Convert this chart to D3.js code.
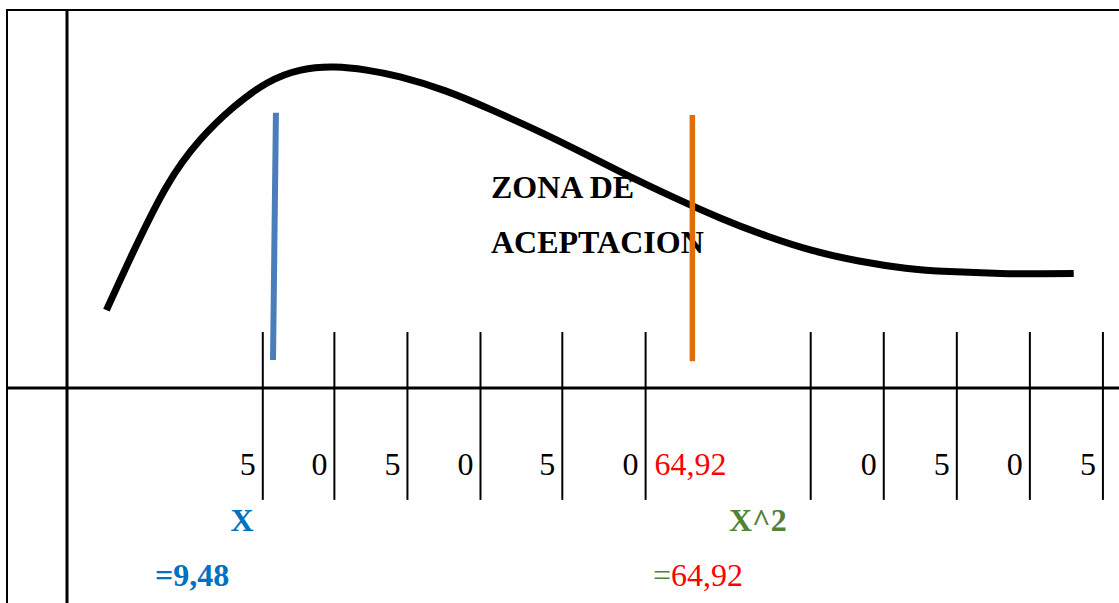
<!DOCTYPE html>
<html lang="es">
<head>
  <meta charset="UTF-8">
  <title>Zona de aceptacion</title>
  <style>
    body { margin: 0; background: #fff; }
    svg { display: block; }
    .frame { stroke: #000; fill: none; }
    .curve { fill: none; stroke: #000; stroke-width: 7px; stroke-linecap: butt; }
    .tick-line { stroke: #000; stroke-width: 2px; }
    .lbl { font-family: "Liberation Serif", "Times New Roman", "DejaVu Serif", serif; font-size: 32px; }
    .bold { font-weight: bold; }
  </style>
  <script src="https://d3js.org/d3.v7.min.js"></script>
</head>
<body>
  <svg id="chart"></svg>
  <script>
    // curve (x in chi units, y in density units 0..100)
    var curveX = [2.7, 4.5, 6.8, 9.1, 11.4, 13.7, 16.0, 18.3, 20.5, 22.8, 25.9, 29.1, 32.4, 35.3, 38.5, 41.6, 44.7, 47.9, 51.0, 54.2, 57.4, 60.4, 63.9, 66.7, 68.9];
    var curveY = [20.6, 35.7, 53.2, 65.6, 74.3, 80.7, 84.1, 84.9, 84.1, 82.3, 78.6, 73.5, 67.7, 62.2, 56.0, 50.3, 45.0, 40.2, 36.4, 33.6, 31.7, 30.8, 30.3, 30.2, 30.3];
    // cell boundaries on the axis and the text in the cell left of each one
    var cellEdges = [13.4, 18.3, 23.3, 28.3, 33.9, 39.6, 50.9, 55.9, 60.9, 65.9, 70.9];
    var cellLabels = ["5", "0", "5", "0", "5", "0", "64,92", "0", "5", "0", "5"];
    var criticalIndex = 6;
    // vertical marker lines: [xTop, xBottom, yTop, yBottom]
    var blueLine = [14.3, 14.1, 72.8, 7.4];
    var orangeLine = [42.8, 42.8, 72.2, 7.1];
    var tickTop = 14.8, tickBottom = -29.6;

    var width = 1119, height = 603;
    var svg = d3.select('#chart').attr('width', width).attr('height', height);

    var x = d3.scaleLinear().domain([0, 72]).range([67, 1119]);
    var y = d3.scaleLinear().domain([0, 100]).range([388, 10]);

    // frame
    var left = 7;
    svg.append('line').attr('class', 'frame').attr('stroke-width', 2)
      .attr('x1', left).attr('x2', width).attr('y1', y(100)).attr('y2', y(100));
    svg.append('line').attr('class', 'frame').attr('stroke-width', 2)
      .attr('x1', left).attr('x2', left).attr('y1', y(100) - 1).attr('y2', height);
    svg.append('line').attr('class', 'frame').attr('stroke-width', 3)
      .attr('x1', x(0)).attr('x2', x(0)).attr('y1', y(100) - 1).attr('y2', height);
    svg.append('line').attr('class', 'frame').attr('stroke-width', 3)
      .attr('x1', left - 1).attr('x2', width).attr('y1', y(0)).attr('y2', y(0));

    // cell divider ticks
    svg.selectAll('.tick-line').data(cellEdges).enter().append('line')
      .attr('class', 'tick-line')
      .attr('x1', function(d){ return x(d); }).attr('x2', function(d){ return x(d); })
      .attr('y1', y(tickTop)).attr('y2', y(tickBottom));

    // cell labels
    var labelBase = y(0) + 87;
    svg.selectAll('.cell-lbl').data(cellLabels).enter().append('text')
      .attr('class', 'lbl cell-lbl')
      .attr('x', function(d, i){ return i === criticalIndex ? x(cellEdges[i - 1]) + 9 : x(cellEdges[i]) - 7; })
      .attr('y', labelBase)
      .attr('text-anchor', function(d, i){ return i === criticalIndex ? 'start' : 'end'; })
      .attr('fill', function(d, i){ return i === criticalIndex ? '#ff0000' : '#000'; })
      .text(function(d){ return d; });

    // the curve
    var line = d3.line()
      .x(function(d){ return x(d[0]); })
      .y(function(d){ return y(d[1]); })
      .curve(d3.curveNatural);
    svg.append('path').attr('class', 'curve')
      .datum(d3.zip(curveX, curveY))
      .attr('d', line);

    // acceptance zone label
    var zona = svg.append('text').attr('class', 'lbl bold').attr('fill', '#000');
    zona.append('tspan').attr('x', 491).attr('y', 198).text('ZONA DE');
    zona.append('tspan').attr('x', 491).attr('y', 253).text('ACEPTACION');

    // marker lines
    svg.append('line')
      .attr('x1', x(blueLine[0])).attr('x2', x(blueLine[1]))
      .attr('y1', y(blueLine[2])).attr('y2', y(blueLine[3]))
      .attr('stroke', '#4a7ebb').attr('stroke-width', 6);
    svg.append('line')
      .attr('x1', x(orangeLine[0])).attr('x2', x(orangeLine[1]))
      .attr('y1', y(orangeLine[2])).attr('y2', y(orangeLine[3]))
      .attr('stroke', '#e36c0a').attr('stroke-width', 5.5);

    // bottom annotations
    svg.append('text').attr('class', 'lbl bold').attr('fill', '#0070c0')
      .attr('x', 242).attr('y', 531).attr('text-anchor', 'middle').text('X');
    svg.append('text').attr('class', 'lbl bold').attr('fill', '#0070c0')
      .attr('x', 155).attr('y', 586).text('=9,48');
    svg.append('text').attr('class', 'lbl bold').attr('fill', '#538135')
      .attr('x', 729).attr('y', 531).text('X^2');
    var chi = svg.append('text').attr('class', 'lbl').attr('x', 653).attr('y', 586);
    chi.append('tspan').attr('fill', '#538135').text('=');
    chi.append('tspan').attr('fill', '#ff0000').text('64,92');
  </script>
</body>
</html>
